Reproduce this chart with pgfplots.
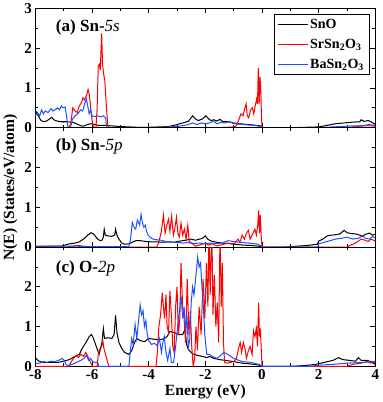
\documentclass[border=0pt]{standalone}
\usepackage{fontspec}
\setmainfont{Liberation Serif}
\usepackage{pgfplots}
\pgfplotsset{compat=1.18}
\usepgfplotslibrary{groupplots}
\definecolor{sored}{RGB}{255,0,0}
\definecolor{soblue}{RGB}{30,80,255}

\begin{document}
\begin{tikzpicture}
\begin{groupplot}[
  group style={group size=1 by 3, vertical sep=0pt, xticklabels at=edge bottom},
  width=339pt, height=119pt, scale only axis,
  xmin=-8, xmax=4, ymin=0, ymax=3,
  xtick={-8,-6,...,4}, minor x tick num=1,
  ytick={0,1,2,3}, minor y tick num=1,
  tick align=inside, major tick length=5pt, minor tick length=3pt,
  every tick/.style={black, line width=0.8pt},
  axis line style={line width=1pt},
  tick label style={font=\fontsize{15}{18}\selectfont\bfseries},
  /pgf/number format/assume math mode=true,
  label style={font=\fontsize{15.5}{18}\selectfont\bfseries},
  every axis plot/.append style={line width=1pt},
  legend image code/.code={\draw[#1] (0pt,0pt) -- (30pt,0pt);},
]
% (a) Sn-5s
\nextgroupplot[
  legend style={at={(rel axis cs:0.982,0.955)}, anchor=north east, draw=black, line width=0.6pt,
    font=\fontsize{14}{16}\selectfont\bfseries, row sep=5pt, inner sep=3pt},
  legend cell align=left]
\addplot[black] coordinates {(-8,0.44) (-7.9,0.3) (-7.8,0.18) (-7.7,0.15) (-7.6,0.17) (-7.5,0.22) (-7.42,0.26) (-7.35,0.2) (-7.25,0.17) (-7.1,0.15) (-6.9,0.15) (-6.7,0.14) (-6.55,0.1) (-6.4,0.05) (-6.3,0.04) (-6.2,0.07) (-6.05,0.1) (-5.95,0.09) (-5.8,0.06) (-5.6,0.06) (-5.4,0.05) (-5.2,0.04) (-5.0,0.03) (-4.7,0.02) (-4.4,0.01) (-4,0.01) (-3.6,0.02) (-3.3,0.03) (-3.1,0.06) (-2.9,0.1) (-2.7,0.14) (-2.6,0.16) (-2.45,0.3) (-2.35,0.22) (-2.25,0.18) (-2.1,0.22) (-1.98,0.3) (-1.88,0.22) (-1.8,0.18) (-1.7,0.2) (-1.6,0.17) (-1.48,0.21) (-1.4,0.16) (-1.2,0.15) (-1,0.12) (-0.8,0.1) (-0.5,0.08) (-0.2,0.06) (-0.02,0.04) (0,0) (1.0,0) (1.5,0.01) (2.0,0.02) (2.3,0.06) (2.6,0.1) (2.9,0.12) (3.2,0.14) (3.45,0.15) (3.5,0.2) (3.6,0.16) (3.75,0.18) (3.85,0.15) (4,0.08)};
\addlegendentry{SnO}
\addplot[sored] coordinates {(-8,0) (-6.82,0) (-6.75,0.1) (-6.68,0.5) (-6.6,0.42) (-6.52,0.38) (-6.45,0.55) (-6.38,0.62) (-6.32,0.75) (-6.27,0.7) (-6.2,0.8) (-6.14,0.96) (-6.1,0.85) (-6.06,0.6) (-6.02,0.3) (-5.98,0.1) (-5.94,0) (-5.86,0.02) (-5.82,0.5) (-5.78,1.55) (-5.74,1.6) (-5.71,1.45) (-5.68,2.0) (-5.66,2.37) (-5.63,1.6) (-5.59,1.35) (-5.55,1.2) (-5.5,0.6) (-5.45,0.1) (-5.42,0) (-3.5,0) (-3.3,0.02) (-3.0,0.0) (-1.5,0) (-1.0,0.02) (-0.9,0.05) (-0.82,0.2) (-0.74,0.35) (-0.67,0.3) (-0.62,0.45) (-0.56,0.6) (-0.52,0.3) (-0.47,0.25) (-0.4,0.45) (-0.34,0.5) (-0.29,0.35) (-0.24,0.55) (-0.19,0.72) (-0.16,0.6) (-0.13,1.5) (-0.1,0.6) (-0.07,1.27) (-0.04,0.9) (-0.02,0.3) (0,0) (3.0,0) (3.3,0.03) (3.7,0.05) (4,0.04)};
\addlegendentry{SrSn\textsubscript{2}O\textsubscript{3}}
\addplot[soblue] coordinates {(-8,0.3) (-7.93,0.38) (-7.85,0.3) (-7.78,0.45) (-7.72,0.35) (-7.65,0.42) (-7.55,0.38) (-7.45,0.48) (-7.38,0.42) (-7.3,0.45) (-7.22,0.5) (-7.15,0.45) (-7.08,0.55) (-7.02,0.5) (-6.95,0.52) (-6.9,0.3) (-6.85,0) (-6.76,0) (-6.7,0.2) (-6.6,0.3) (-6.5,0.35) (-6.4,0.45) (-6.33,0.42) (-6.26,0.6) (-6.2,0.72) (-6.14,0.5) (-6.1,0.35) (-6.05,0.45) (-6,0.3) (-5.9,0.28) (-5.8,0.3) (-5.7,0.27) (-5.6,0.3) (-5.52,0.25) (-5.48,0) (-4.5,0.01) (-3.5,0.01) (-3.0,0.03) (-2.8,0.05) (-2.6,0.08) (-2.45,0.12) (-2.3,0.08) (-2.15,0.12) (-2.0,0.1) (-1.85,0.12) (-1.7,0.17) (-1.6,0.1) (-1.45,0.13) (-1.3,0.12) (-1.15,0.16) (-1.0,0.1) (-0.8,0.09) (-0.5,0.07) (-0.2,0.05) (0,0.02) (0.02,0) (2.0,0) (2.5,0.02) (3.0,0.04) (3.5,0.05) (3.8,0.08) (4,0.05)};
\addlegendentry{BaSn\textsubscript{2}O\textsubscript{3}}
\node[anchor=west, font=\fontsize{17}{20}\selectfont\bfseries] at (rel axis cs:0.05,0.84) {(a) Sn-{\normalfont\itshape 5s}};
% (b) Sn-5p
\nextgroupplot[yticklabels={0,1,2,{}}, ylabel={N(E) (States/eV/atom)}]
\addplot[black] coordinates {(-8,0.01) (-7.5,0.02) (-7.1,0.02) (-7.0,0.04) (-6.8,0.08) (-6.6,0.1) (-6.45,0.13) (-6.3,0.2) (-6.15,0.3) (-6.03,0.36) (-5.93,0.32) (-5.83,0.22) (-5.72,0.16) (-5.65,0.17) (-5.6,0.25) (-5.57,0.45) (-5.53,0.3) (-5.45,0.28) (-5.3,0.27) (-5.2,0.3) (-5.17,0.45) (-5.12,0.3) (-5.05,0.2) (-4.95,0.1) (-4.85,0.07) (-4.7,0.08) (-4.55,0.13) (-4.45,0.16) (-4.3,0.16) (-4.1,0.14) (-3.9,0.13) (-3.7,0.13) (-3.5,0.12) (-3.3,0.13) (-3.1,0.12) (-2.9,0.15) (-2.7,0.17) (-2.5,0.2) (-2.35,0.17) (-2.2,0.2) (-2.1,0.22) (-2.0,0.28) (-1.92,0.2) (-1.8,0.15) (-1.6,0.12) (-1.4,0.1) (-1.2,0.09) (-1.0,0.07) (-0.7,0.05) (-0.4,0.04) (-0.1,0.02) (0,0) (0.8,0) (1.2,0.02) (1.6,0.04) (1.95,0.07) (2.0,0.15) (2.15,0.2) (2.3,0.28) (2.45,0.3) (2.6,0.31) (2.75,0.33) (2.9,0.42) (3.0,0.36) (3.15,0.34) (3.3,0.33) (3.45,0.3) (3.55,0.27) (3.65,0.32) (3.8,0.35) (3.9,0.3) (4,0.32)};
\addplot[sored] coordinates {(-8,0) (-6.9,0) (-6.7,0.02) (-6.5,0.04) (-6.3,0.02) (-6.0,0) (-3.72,0) (-3.65,0.1) (-3.55,0.4) (-3.48,0.8) (-3.42,0.35) (-3.36,0.55) (-3.3,0.7) (-3.25,0.4) (-3.19,0.78) (-3.13,0.3) (-3.08,0.45) (-3.02,0.75) (-2.97,0.35) (-2.92,0.25) (-2.86,0.6) (-2.8,0.3) (-2.74,0.45) (-2.68,0.2) (-2.62,0.55) (-2.57,0.15) (-2.5,0.1) (-2.45,0.08) (-2.35,0.02) (-2.2,0.05) (-2.0,0.1) (-1.9,0.05) (-1.75,0.08) (-1.6,0.03) (-1.4,0.06) (-1.2,0.1) (-1.05,0.08) (-0.95,0.1) (-0.85,0.2) (-0.78,0.12) (-0.7,0.3) (-0.62,0.2) (-0.55,0.35) (-0.48,0.42) (-0.42,0.2) (-0.35,0.3) (-0.25,0.45) (-0.2,0.3) (-0.15,0.55) (-0.12,0.92) (-0.09,0.35) (-0.06,0.8) (-0.03,0.3) (0,0) (3.0,0) (3.1,0.04) (3.25,0.08) (3.4,0.15) (3.5,0.2) (3.6,0.18) (3.75,0.14) (3.85,0.2) (4,0.15)};
\addplot[soblue] coordinates {(-8,0.02) (-7,0.02) (-6.5,0.02) (-6.0,0.01) (-5.0,0.01) (-4.7,0.01) (-4.64,0.2) (-4.58,0.62) (-4.52,0.5) (-4.46,0.45) (-4.4,0.68) (-4.32,0.55) (-4.27,0.82) (-4.22,0.6) (-4.17,0.5) (-4.12,0.55) (-4.08,0.4) (-4.02,0.3) (-3.95,0.25) (-3.85,0.2) (-3.7,0.18) (-3.55,0.17) (-3.4,0.14) (-3.2,0.12) (-3.0,0.12) (-2.8,0.1) (-2.6,0.11) (-2.4,0.09) (-2.2,0.1) (-2.0,0.08) (-1.8,0.1) (-1.6,0.09) (-1.4,0.1) (-1.2,0.16) (-1.0,0.14) (-0.8,0.12) (-0.5,0.1) (-0.2,0.08) (0,0.02) (0.02,0) (1.97,0) (2.0,0.08) (2.2,0.12) (2.4,0.16) (2.6,0.2) (2.8,0.22) (3.0,0.25) (3.2,0.2) (3.4,0.22) (3.55,0.28) (3.65,0.22) (3.8,0.2) (3.9,0.27) (4,0.22)};
\node[anchor=west, font=\fontsize{17}{20}\selectfont\bfseries] at (rel axis cs:0.05,0.84) {(b) Sn-{\normalfont\itshape 5p}};
% (c) O-2p
\nextgroupplot[yticklabels={0,1,2,{}}, xlabel={Energy (eV)},
  xlabel style={at={(axis description cs:0.5,0)}, anchor=north, yshift=-14.5pt}]
\addplot[black] coordinates {(-8,0.22) (-7.9,0.14) (-7.75,0.1) (-7.5,0.1) (-7.2,0.1) (-7.0,0.13) (-6.8,0.17) (-6.6,0.25) (-6.45,0.3) (-6.35,0.45) (-6.2,0.62) (-6.1,0.75) (-6.02,0.8) (-5.95,0.7) (-5.85,0.5) (-5.75,0.3) (-5.7,0.45) (-5.65,0.6) (-5.6,0.95) (-5.56,0.7) (-5.45,0.72) (-5.3,0.7) (-5.22,0.8) (-5.17,1.28) (-5.12,0.85) (-5.05,0.6) (-4.95,0.45) (-4.85,0.35) (-4.7,0.3) (-4.6,0.4) (-4.5,0.6) (-4.42,0.7) (-4.3,0.65) (-4.15,0.62) (-4.0,0.7) (-3.8,0.68) (-3.6,0.67) (-3.45,0.7) (-3.35,0.75) (-3.25,0.88) (-3.1,0.85) (-2.95,0.8) (-2.8,0.8) (-2.72,0.93) (-2.66,0.55) (-2.6,0.42) (-2.45,0.32) (-2.3,0.28) (-2.1,0.25) (-1.95,0.22) (-1.85,0.25) (-1.7,0.2) (-1.5,0.17) (-1.3,0.15) (-1.0,0.12) (-0.7,0.08) (-0.4,0.06) (-0.1,0.03) (0,0) (1.0,0) (1.5,0.02) (1.9,0.05) (2.2,0.1) (2.5,0.15) (2.7,0.22) (2.85,0.17) (3.1,0.15) (3.3,0.13) (3.4,0.22) (3.5,0.15) (3.7,0.15) (3.85,0.12) (4,0.05)};
\addplot[sored] coordinates {(-8,0) (-6.82,0) (-6.75,0.1) (-6.65,0.2) (-6.55,0.28) (-6.48,0.22) (-6.4,0.3) (-6.3,0.25) (-6.22,0.35) (-6.15,0.25) (-6.05,0.1) (-5.98,0) (-5.82,0) (-5.78,0.3) (-5.72,0.45) (-5.66,0.5) (-5.62,0.65) (-5.58,0.45) (-5.52,0.3) (-5.45,0.1) (-5.4,0) (-3.74,0) (-3.7,0.3) (-3.64,1.0) (-3.58,1.3) (-3.52,1.85) (-3.48,1.5) (-3.44,1.2) (-3.39,1.8) (-3.35,1.0) (-3.3,0.85) (-3.25,1.9) (-3.2,1.3) (-3.15,0.5) (-3.1,0.35) (-3.05,1.5) (-3.0,2.0) (-2.95,0.8) (-2.9,1.2) (-2.86,2.6) (-2.8,1.5) (-2.75,1.2) (-2.7,0.6) (-2.64,2.2) (-2.58,0.8) (-2.53,1.4) (-2.48,0.5) (-2.43,0) (-2.38,0.2) (-2.33,1.0) (-2.28,0.4) (-2.22,1.5) (-2.15,0.8) (-2.08,2.2) (-2.02,1.2) (-1.96,2.6) (-1.91,1.5) (-1.87,3.5) (-1.83,1.8) (-1.77,3.5) (-1.73,1.3) (-1.68,2.3) (-1.63,1.0) (-1.58,1.6) (-1.53,0.6) (-1.48,3.5) (-1.44,1.5) (-1.4,2.6) (-1.36,0.6) (-1.32,0.1) (-1.2,0.08) (-1.0,0.12) (-0.9,0.2) (-0.83,0.45) (-0.77,0.6) (-0.72,0.35) (-0.66,0.6) (-0.6,0.45) (-0.55,0.2) (-0.48,0.4) (-0.42,0.5) (-0.35,0.3) (-0.3,0.9) (-0.25,0.75) (-0.2,0.95) (-0.16,0.5) (-0.12,1.6) (-0.09,0.75) (-0.06,0.95) (-0.03,0.5) (0,0) (3.0,0) (3.2,0.05) (3.5,0.08) (3.7,0.12) (3.85,0.08) (4,0.1)};
\addplot[soblue] coordinates {(-8,0.07) (-7.85,0.08) (-7.7,0.12) (-7.6,0.1) (-7.45,0.13) (-7.3,0.12) (-7.15,0.16) (-7.05,0.2) (-6.98,0.15) (-6.92,0.05) (-6.85,0.02) (-6.7,0.05) (-6.55,0.1) (-6.4,0.15) (-6.28,0.2) (-6.2,0.28) (-6.12,0.15) (-6.05,0.2) (-5.98,0.12) (-5.9,0.1) (-5.8,0.1) (-5.76,0) (-4.7,0) (-4.66,0.3) (-4.6,0.7) (-4.55,0.55) (-4.48,1.05) (-4.42,0.7) (-4.35,1.2) (-4.3,1.55) (-4.25,1.3) (-4.2,1.4) (-4.15,1.0) (-4.1,1.15) (-4.05,0.8) (-4.0,0.65) (-3.9,0.55) (-3.8,0.58) (-3.7,0.52) (-3.62,0.7) (-3.55,0.35) (-3.5,0.6) (-3.45,0.75) (-3.4,0.4) (-3.33,0.15) (-3.25,0.45) (-3.2,0.1) (-3.12,0.1) (-3.05,0.5) (-2.95,1.2) (-2.85,1.75) (-2.8,1.2) (-2.75,1.5) (-2.7,0.9) (-2.65,1.3) (-2.6,0.45) (-2.55,0.7) (-2.5,1.6) (-2.45,2.0) (-2.4,1.8) (-2.33,2.3) (-2.27,2.75) (-2.22,2.5) (-2.17,2.6) (-2.12,2.0) (-2.07,1.5) (-2.02,0.8) (-1.95,0.3) (-1.85,0.3) (-1.75,0.25) (-1.6,0.2) (-1.5,0.25) (-1.35,0.35) (-1.2,0.3) (-1.0,0.2) (-0.7,0.12) (-0.4,0.1) (-0.1,0.05) (0,0) (1.7,0) (2.0,0.03) (2.5,0.05) (3.0,0.08) (3.5,0.1) (4,0.12)};
\node[anchor=west, font=\fontsize{17}{20}\selectfont\bfseries] at (rel axis cs:0.05,0.82) {(c) O-{\normalfont\itshape 2p}};
\end{groupplot}
\end{tikzpicture}
\end{document}
